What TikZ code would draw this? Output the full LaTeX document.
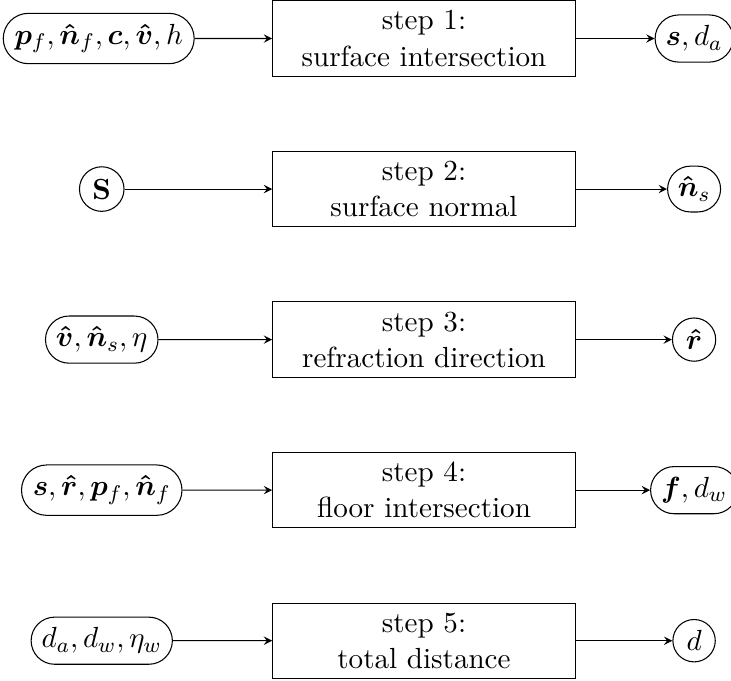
\documentclass[tikz,border=0pt,11pt]{standalone}
\usepackage{amsmath,bm}
\usetikzlibrary{shapes.misc}
\tikzset{
  paso/.style={draw, minimum width=4cm, minimum height=0.97cm, align=center},
  dato/.style={draw, rounded rectangle, inner xsep=2.5pt, inner ysep=4pt},
  datoc/.style={draw, circle, inner sep=2.3pt},
  flecha/.style={-stealth},
}
\begin{document}
\begin{tikzpicture}
    \useasboundingbox (-5.605,0.509) rectangle (4.058,-8.48);
    % Paso 1
    \node[paso] (p1) at (0,0) {step 1:\\surface intersection};
    \node[dato] (e1) at (-4.3,0) {$\bm{p}_f, \bm{\hat{n}}_f, \bm{c}, \bm{\hat{v}}, h$};
    \node[dato] (s1) at (3.57,0) {$\bm{s}, d_a$};
    \draw[flecha] (e1) -- (p1);
    \draw[flecha] (p1) -- (s1);
    % Paso 2
    \node[paso] (p2) at (0,-1.99) {step 2:\\surface normal};
    \node[datoc] (e2) at (-4.26,-1.99) {$\mathbf{S}$};
    \node[dato] (s2) at (3.57,-1.99) {$\bm{\hat{n}}_s$};
    \draw[flecha] (e2) -- (p2);
    \draw[flecha] (p2) -- (s2);
    % Paso 3
    \node[paso] (p3) at (0,-3.98) {step 3:\\refraction direction};
    \node[dato] (e3) at (-4.26,-3.98) {$\bm{\hat{v}}, \bm{\hat{n}}_s, \eta$};
    \node[datoc] (s3) at (3.57,-3.98) {$\bm{\hat{r}}$};
    \draw[flecha] (e3) -- (p3);
    \draw[flecha] (p3) -- (s3);
    % Paso 4
    \node[paso] (p4) at (0,-5.97) {step 4:\\floor intersection};
    \node[dato] (e4) at (-4.26,-5.97) {$\bm{s}, \bm{\hat{r}}, \bm{p}_f, \bm{\hat{n}}_f$};
    \node[dato] (s4) at (3.57,-5.97) {$\bm{f}, d_w$};
    \draw[flecha] (e4) -- (p4);
    \draw[flecha] (p4) -- (s4);
    % Paso 5
    \node[paso] (p5) at (0,-7.96) {step 5:\\total distance};
    \node[dato] (e5) at (-4.26,-7.96) {$d_a, d_w, \eta_w$};
    \node[datoc] (s5) at (3.57,-7.96) {$d$};
    \draw[flecha] (e5) -- (p5);
    \draw[flecha] (p5) -- (s5);
\end{tikzpicture}
\end{document}
